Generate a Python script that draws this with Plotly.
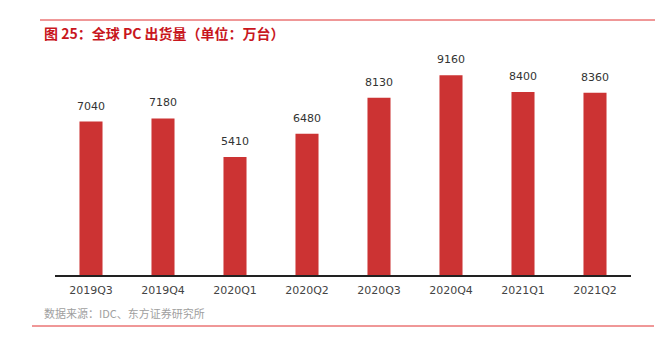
import plotly.graph_objects as go

categories = ["2019Q3", "2019Q4", "2020Q1", "2020Q2", "2020Q3", "2020Q4", "2021Q1", "2021Q2"]
shipments = [7040, 7180, 5410, 6480, 8130, 9160, 8400, 8360]

title_text = "图 25：全球 PC 出货量（单位：万台）"
source_text = "数据来源：IDC、东方证券研究所"

W, H = 659, 351
L, R, T, B = 55, 28, 57, 76
PW, PH = W - L - R, H - T - B


def px(x):
    return (x - L) / PW


def py(y):
    return (H - B - y) / PH


fig = go.Figure()
fig.add_trace(go.Bar(
    x=categories, y=shipments,
    marker=dict(color="#CC3333", line=dict(width=0)),
    width=0.32,
    cliponaxis=False,
    hoverinfo="x+y",
))

annotations = [
    dict(text="<b>" + title_text + "</b>", xref="paper", yref="paper",
         x=px(42), y=py(33), xanchor="left", yanchor="middle", showarrow=False,
         font=dict(family="Noto Sans CJK SC, sans-serif", size=14, color="#C8161D")),
    dict(text=source_text, xref="paper", yref="paper",
         x=px(42), y=py(313), xanchor="left", yanchor="middle", showarrow=False,
         font=dict(family="Noto Sans CJK SC, sans-serif", size=11, color="#A0A0A0")),
]
for c, v in zip(categories, shipments):
    annotations.append(dict(
        text=str(v), x=c, y=v, xref="x", yref="y",
        xanchor="center", yanchor="bottom", yshift=7, showarrow=False,
        font=dict(family="DejaVu Sans, sans-serif", size=11, color="#333333"),
    ))

fig.update_layout(
    width=W, height=H,
    margin=dict(l=L, r=R, t=T, b=B),
    paper_bgcolor="white", plot_bgcolor="white",
    showlegend=False,
    font=dict(family="DejaVu Sans, Noto Sans CJK SC, sans-serif"),
    xaxis=dict(
        showline=True, linecolor="#222222", linewidth=1.5,
        ticks="", showgrid=False,
        tickfont=dict(family="DejaVu Sans, sans-serif", size=11, color="#444444"),
        ticklabelstandoff=4,
    ),
    yaxis=dict(range=[0, 10000], visible=False, showgrid=False),
    shapes=[
        dict(type="line", xref="paper", yref="paper",
             x0=px(40), x1=px(655), y0=py(20), y1=py(20),
             line=dict(color="#E03030", width=1)),
        dict(type="line", xref="paper", yref="paper",
             x0=px(32), x1=px(654), y0=py(326), y1=py(326),
             line=dict(color="#E03030", width=1)),
    ],
    annotations=annotations,
)

fig.write_html("out.html")
